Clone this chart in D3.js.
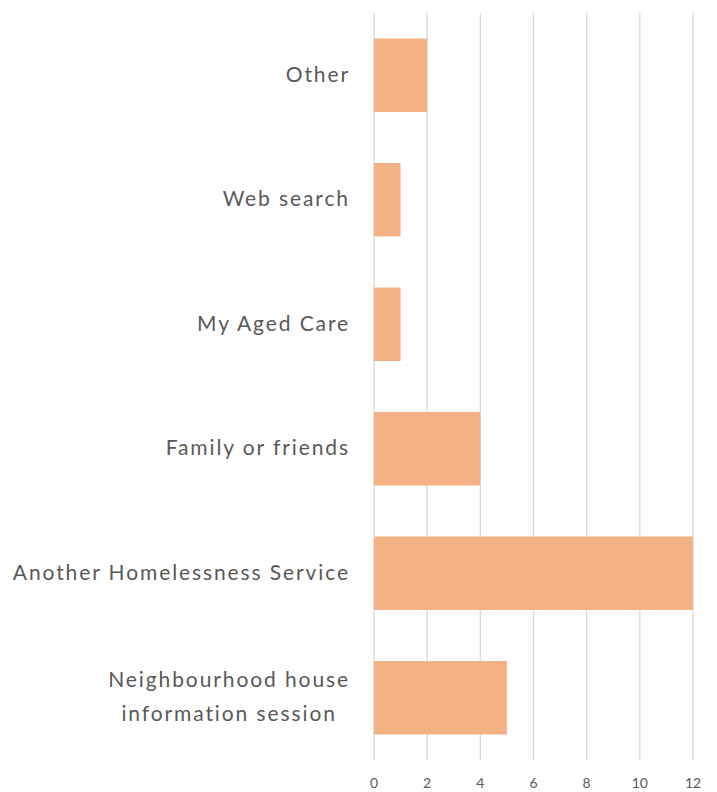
<!DOCTYPE html>
<html><head><meta charset="utf-8">
<script src="https://cdn.jsdelivr.net/npm/d3@7"></script>
<style>body{margin:0;background:#fff;} svg{display:block;}</style>
</head><body>
<svg id="c" width="717" height="792"></svg>
<script>
const categories = ["Other", "Web search", "My Aged Care", "Family or friends", "Another Homelessness Service", "Neighbourhood house\ninformation session"];
const values = [2, 1, 1, 4, 12, 5];
const tickValues = [0, 2, 4, 6, 8, 10, 12];

const svg = d3.select("#c");
const m = {left: 374, right: 24, top: 13, bottom: 32};
const W = 717, H = 792;
const x = d3.scaleLinear().domain([0, 12]).range([m.left, 693]);
const y = d3.scaleBand().domain(categories).range([m.top, H - m.bottom]).paddingInner(0.41).paddingOuter(0.205);

// gridlines
svg.append("g").selectAll("line").data(tickValues).join("line")
  .attr("x1", d => x(d)).attr("x2", d => x(d))
  .attr("y1", m.top).attr("y2", H - m.bottom)
  .attr("stroke", "#d9d9d9").attr("stroke-width", 1.3);

// bars
svg.append("g").selectAll("rect").data(categories).join("rect")
  .attr("x", x(0)).attr("y", d => y(d))
  .attr("width", (d, i) => x(values[i]) - x(0))
  .attr("height", y.bandwidth())
  .attr("fill", "#F4B183");

// tick labels
svg.append("g").selectAll("text").data(tickValues).join("text")
  .attr("x", d => x(d)).attr("y", 788)
  .attr("text-anchor", "middle")
  .attr("font-family", "Lato, 'Open Sans', sans-serif")
  .attr("font-size", 14).attr("fill", "#595959")
  .text(d => d);

// category labels
const labelRight = 350;
const lg = svg.append("g");
categories.forEach(c => {
  const lines = c.split("\n");
  const cy = y(c) + y.bandwidth() / 2 - 2.5;
  const lh = 34;
  const t = lg.append("text")
    .attr("font-family", "Lato, 'Open Sans', sans-serif")
    .attr("font-size", 21).attr("fill", "#595959")
    .attr("letter-spacing", 1.9)
    .attr("dominant-baseline", "central");
  const spans = lines.map((l, i) => t.append("tspan")
    .attr("y", cy + (i - (lines.length - 1) / 2) * lh).text(l));
  const widths = spans.map(s => s.node().getComputedTextLength());
  const maxW = d3.max(widths);
  spans.forEach(s => s.attr("x", labelRight - maxW / 2).attr("text-anchor", "middle"));
});
</script>
</body></html>
